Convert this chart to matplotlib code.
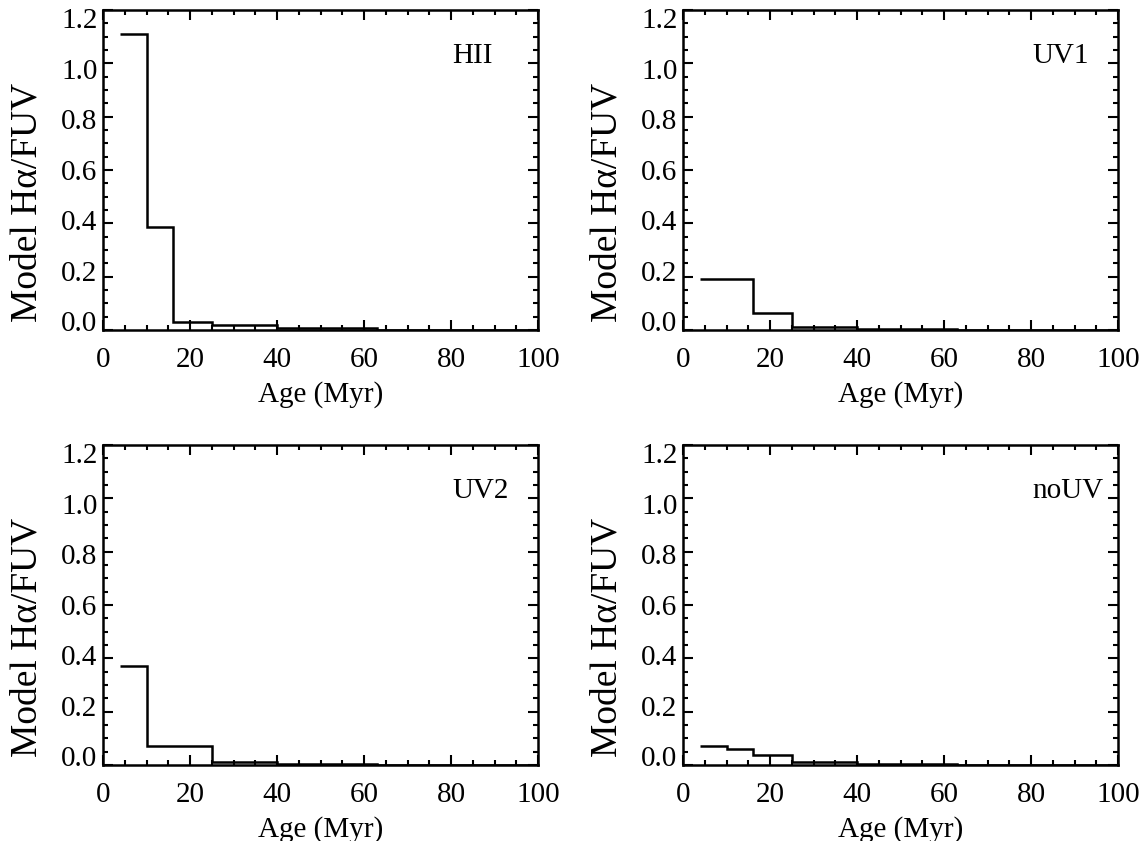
import numpy as np
import matplotlib
matplotlib.use('Agg')
import matplotlib.pyplot as plt
from matplotlib.ticker import MultipleLocator
from matplotlib.transforms import ScaledTranslation

# age bin edges (Myr) and model Halpha/FUV per bin
edges = [4, 10, 16, 25, 40, 63, 100]
hii = [1.11, 0.385, 0.031, 0.019, 0.006, 0.0]
uv1 = [0.19, 0.19, 0.0625, 0.012, 0.004, 0.0]
uv2 = [0.37, 0.072, 0.072, 0.0125, 0.004, 0.0]
nouv = [0.072, 0.059, 0.0375, 0.01, 0.003, 0.0]
names = ['HII', 'UV1', 'UV2', 'noUV']
series = [hii, uv1, uv2, nouv]

plt.rcParams['font.family'] = ['Liberation Serif', 'DejaVu Serif']

W, H = 1146, 841
fig = plt.figure(figsize=(W / 100, H / 100), dpi=100)

# axes boxes in pixels: left, top, right, bottom
boxes = [(103, 10, 538, 330), (683, 10, 1118, 330),
         (103, 445, 538, 765), (683, 445, 1118, 765)]

fs = 21
for (l, t, r, b), name, vals in zip(boxes, names, series):
    ax = fig.add_axes([l / W, 1 - b / H, (r - l) / W, (b - t) / H])
    ax.stairs(vals, edges, baseline=None, color='black', linewidth=1.8)
    ax.set_xlim(0, 100)
    ax.set_ylim(0, 1.2)
    ax.xaxis.set_major_locator(MultipleLocator(20))
    ax.xaxis.set_minor_locator(MultipleLocator(5))
    ax.yaxis.set_major_locator(MultipleLocator(0.2))
    ax.yaxis.set_minor_locator(MultipleLocator(0.05))
    ax.yaxis.set_major_formatter(plt.FormatStrFormatter('%.1f'))
    ax.tick_params(which='both', direction='in', top=True, right=True,
                   width=1.5, labelsize=fs, color='black')
    ax.tick_params(which='major', length=7)
    ax.tick_params(which='minor', length=3.5)
    ax.tick_params(axis='x', pad=12.5)
    ax.tick_params(axis='y', pad=4)
    for sp in ax.spines.values():
        sp.set_linewidth(1.8)
    # IDL-like: y tick labels are packed a little tighter than the ticks
    fig.canvas.draw()
    for lab in ax.get_yticklabels():
        k = (1.2 - lab.get_position()[1]) / 0.2
        shift = 8 - 2.8 * k
        off = ScaledTranslation(0, -shift / 100, fig.dpi_scale_trans)
        lab.set_transform(lab.get_transform() + off)
    ax.set_xlabel('Age (Myr)', fontsize=fs, va='top')
    ax.xaxis.set_label_coords(0.5, -0.16)
    ax.set_ylabel('Model Hα/FUV', fontsize=27)
    ax.yaxis.set_label_coords(-0.135, 0.40)
    ax.text(80.3, 1.0, name, fontsize=fs, ha='left', va='baseline')

fig.savefig('out.png', dpi=100)
